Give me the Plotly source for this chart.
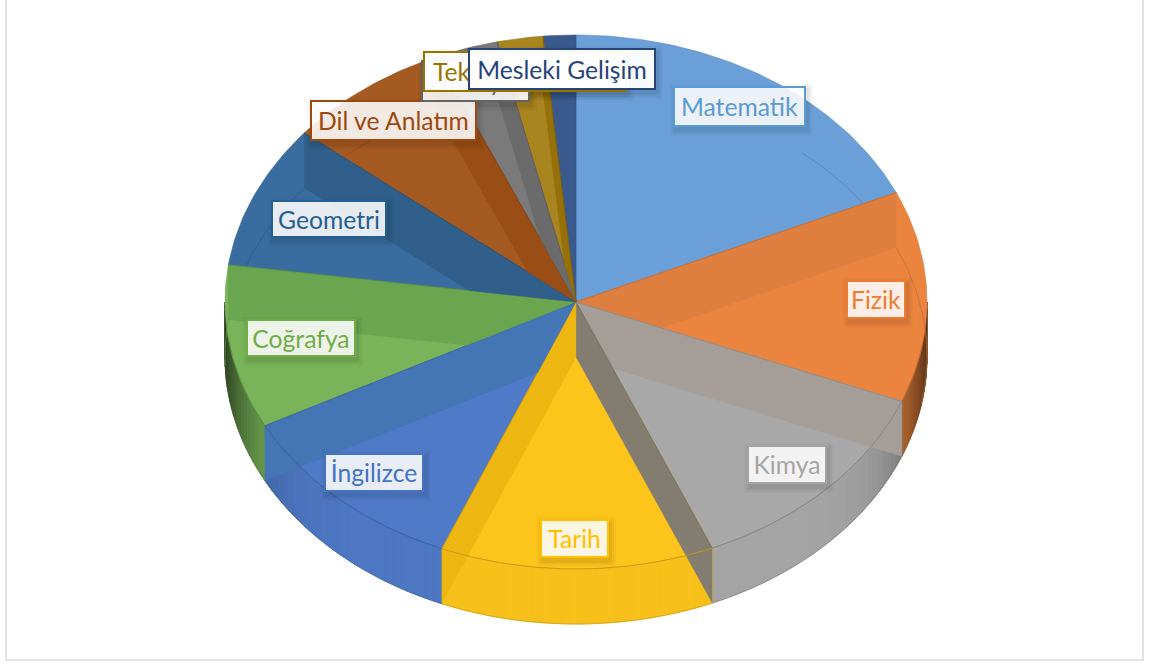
import math
import plotly.graph_objects as go

categories = ["Matematik", "Fizik", "Kimya", "Tarih", "İngilizce", "Coğrafya",
              "Geometri", "Dil ve Anlatım", "Edebiyat", "Teknoloji ve Tasarım", "Mesleki Gelişim"]
values = [18.3, 12.8, 12.6, 12.6, 11.1, 9.9, 8.7, 7.6, 2.9, 2.1, 1.5]

top_colors = ["#6A9FD7", "#EB843F", "#A8A8A8", "#FDC41B", "#4F7AC7", "#7AB45A",
              "#3A6D9F", "#A55A22", "#7A7A7A", "#A8851F", "#3A5A8E"]
wall_colors = ["#6A9FD7", "#DE7F40", "#A59E98", "#827D70", "#EDB610", "#4475B5",
               "#6AA550", "#2F5F8A", "#9A4D15", "#6B6B6B", "#967008"]
text_colors = ["#5B9BD5", "#ED7D31", "#A5A5A5", "#FFC000", "#4472C4", "#70AD47",
               "#255E91", "#9E480E", "#636363", "#997300", "#264478"]
# label boxes: left, top, right, bottom
label_boxes = [(673, 86, 806, 127), (846, 280, 906, 319), (747, 445, 827, 484),
               (540, 519, 609, 558), (324, 453, 424, 492), (246, 319, 356, 357),
               (271, 200, 387, 238), (310, 100, 477, 141), (421, 60, 530, 102),
               (423, 51, 627, 92), (468, 48, 656, 90)]

CX, CY, RX, RY, DEPTH = 576, 302, 351, 267, 55
FONT = "Lato, Carlito, Calibri, sans-serif"


def px(t):
    return CX + RX * math.sin(math.radians(t))


def py(t, dy=0):
    return CY + dy - RY * math.cos(math.radians(t))


def arc(a, b, dy=0, step=1.0):
    n = max(2, int(abs(b - a) / step) + 1)
    ts = [a + (b - a) * i / (n - 1) for i in range(n)]
    return [px(t) for t in ts], [py(t, dy) for t in ts]


def shade(hex_color, f):
    r, g, b = int(hex_color[1:3], 16), int(hex_color[3:5], 16), int(hex_color[5:7], 16)
    return f"rgb({int(r * f)},{int(g * f)},{int(b * f)})"


total = sum(values)
edges = [0.0]
for v in values:
    edges.append(edges[-1] + v / total * 360)

fig = go.Figure()


def poly(xs, ys, fill, line=None, width=0.6):
    fig.add_trace(go.Scatter(x=xs, y=ys, mode="lines", fill="toself", fillcolor=fill,
                             line=dict(color=line or fill, width=width),
                             hoverinfo="skip", showlegend=False))


def stroke(xs, ys, color, width=0.8):
    fig.add_trace(go.Scatter(x=xs, y=ys, mode="lines", line=dict(color=color, width=width),
                             hoverinfo="skip", showlegend=False))


def wall_end(t, nxt):
    """Where the lower edge of the cut wall at angle t meets the next cut line, if it does."""
    ax, ay = px(t) - CX, py(t) - CY
    bx, by = px(nxt) - CX, py(nxt) - CY
    d = ax * by - ay * bx
    if abs(d) < 1e-9:
        return CX, CY + DEPTH
    u = (bx * DEPTH) / d
    v = (ax * DEPTH) / d
    if 0 < u < 1 and 0 < v < 1:
        return CX + u * ax, CY + DEPTH + u * ay
    return CX, CY + DEPTH


# bottom discs
for i, c in enumerate(top_colors):
    xs, ys = arc(edges[i], edges[i + 1], DEPTH)
    poly([CX] + xs + [CX], [CY + DEPTH] + ys + [CY + DEPTH], c)

# outer side strips
for i, c in enumerate(top_colors):
    a, b = max(edges[i], 90), min(edges[i + 1], 270)
    t = a
    while t < b:
        e = min(t + 1.5, b)
        s = abs(math.sin(math.radians((t + e) / 2)))
        col = shade(c, 0.98 * (1 - 0.6 * s ** 12))
        poly([px(t), px(e), px(e), px(t), px(t)],
             [py(t), py(e), py(e, DEPTH), py(t, DEPTH), py(t)], col, col, 1.0)
        t = e

# top faces
for i, c in enumerate(top_colors):
    xs, ys = arc(edges[i], edges[i + 1])
    poly([CX] + xs + [CX], [CY] + ys + [CY], c, shade(c, 0.9), 0.6)

# rear arc of the lower disc, seen through the faces
for i, c in enumerate(top_colors):
    a, b = edges[i], edges[i + 1]
    for lo, hi in ((a, min(b, 100)), (max(a, 268), b)):
        if lo < hi and not (i == 0 and hi < 40):
            xs, ys = arc(max(lo, 40) if i == 0 else lo, hi, DEPTH)
            stroke(xs, ys, shade(c, 0.82), 0.7)

# cut walls
for i in range(1, len(values)):
    t = edges[i]
    nxt = edges[i + 1] if t < 180 else edges[i - 1]
    ex, ey = wall_end(t, nxt)
    c = wall_colors[i]
    poly([CX, px(t), px(t), ex, CX], [CY, py(t), py(t, DEPTH), ey, CY], c, c, 0.3)
    stroke([CX, px(t)], [CY, py(t)], shade(c, 0.85), 0.7)

# front rim of the top face
for i, c in enumerate(top_colors):
    a, b = max(edges[i], 100), min(edges[i + 1], 262)
    if a < b:
        xs, ys = arc(a, b)
        stroke(xs, ys, shade(c, 0.78), 0.9)

# bottom outline
xs, ys = arc(90, 270, DEPTH)
stroke(xs, ys, "rgba(90,90,60,0.3)", 0.7)

shapes = [dict(type="rect", xref="x", yref="y", x0=6, x1=1143, y0=-10, y1=660, layer="above",
               line=dict(color="#D9D9D9", width=1.5), fillcolor="rgba(0,0,0,0)")]
annotations = []
for i, (l, t, r, b) in enumerate(label_boxes):
    for grow, alpha in ((5, 0.025), (3, 0.035), (1, 0.05)):
        shapes.append(dict(type="rect", xref="x", yref="y", layer="above",
                           x0=l + 2 - grow, x1=r + 2 + grow, y0=t + 3 - grow, y1=b + 4 + grow,
                           line=dict(width=0), fillcolor=f"rgba(0,0,0,{alpha})"))
    pad = 8 if categories[i].startswith("Tek") else 0
    annotations.append(dict(
        x=(l + r) / 2, y=(t + b) / 2, xref="x", yref="y", text=categories[i], showarrow=False,
        width=r - l - 4 - 2 * pad, height=b - t - 4 - 2 * pad,
        align="left" if pad else "center",
        valign="middle", borderpad=pad, borderwidth=2, bordercolor=text_colors[i],
        bgcolor="rgba(255,255,255,0.96)" if i >= 9 else "rgba(255,255,255,0.88)",
        font=dict(family=FONT, size=24.7, color=text_colors[i]),
    ))

fig.update_layout(
    width=1150, height=664, autosize=False,
    margin=dict(l=0, r=0, t=0, b=0),
    paper_bgcolor="white", plot_bgcolor="white",
    xaxis=dict(range=[0, 1150], visible=False, fixedrange=True),
    yaxis=dict(range=[664, 0], visible=False, fixedrange=True),
    shapes=shapes, annotations=annotations, showlegend=False,
)
fig.write_html("out.html", config={"displayModeBar": False},
               post_script="document.body.style.margin='0';document.documentElement.style.overflow='hidden';")
